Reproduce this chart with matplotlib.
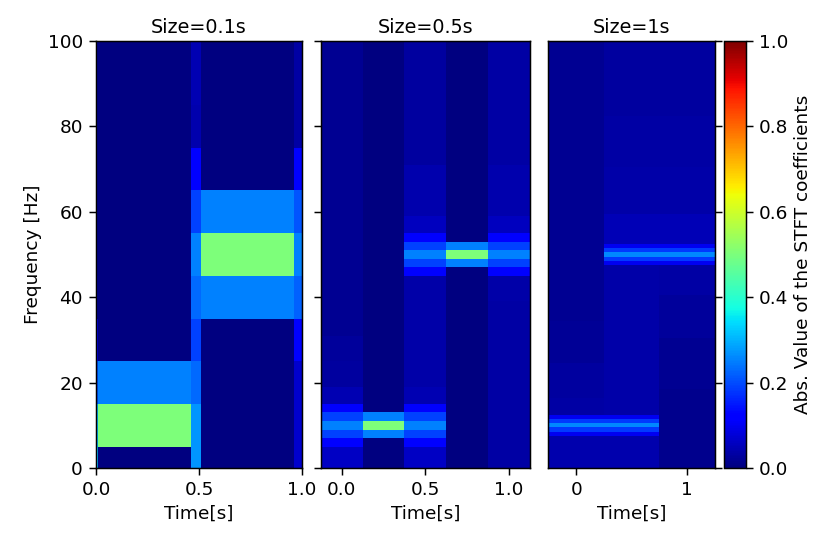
import matplotlib.pyplot as plt
import numpy as np

plt.rcParams['font.size'] = 13.3
plt.rcParams['axes.linewidth'] = 1.07
for a in ('xtick', 'ytick'):
    plt.rcParams[a + '.major.size'] = 4.7
    plt.rcParams[a + '.major.width'] = 1.07
    plt.rcParams[a + '.major.pad'] = 4.7

# ---- window 0.1 s : 10 Hz bins, frame boundaries in seconds
t01_edges = [0.0, 0.01, 0.06, 0.11, 0.16, 0.21, 0.26, 0.31, 0.36, 0.41, 0.46,
             0.51, 0.56, 0.61, 0.66, 0.71, 0.76, 0.81, 0.86, 0.91, 0.96, 1.0]
f01 = [0, 10, 20, 30, 40, 50, 60, 70, 80, 90, 100]
s01_start = [0.30, 0.30, 0.20, 0.10, 0.03, 0.02, 0.02, 0.02, 0.02, 0.02, 0.02]
s01_tone10 = [0.0, 0.50, 0.25, 0.0, 0.0, 0.0, 0.0, 0.0, 0.0, 0.0, 0.0]
s01_switch = [0.27, 0.27, 0.23, 0.19, 0.23, 0.25, 0.19, 0.11, 0.04, 0.045, 0.045]
s01_tone50 = [0.0, 0.0, 0.0, 0.0, 0.25, 0.50, 0.25, 0.0, 0.0, 0.0, 0.0]
s01_end = [0.07, 0.07, 0.07, 0.11, 0.22, 0.25, 0.21, 0.11, 0.035, 0.035, 0.035]

# ---- window 0.5 s : 2 Hz bins, frames every 0.25 s
# each frame: floor level + (lo_hz, hi_hz, value) bands
t05 = [0.0, 0.25, 0.5, 0.75, 1.0]
f05 = np.arange(0, 101, 2)
s05_floor = [0.018, 0.0, 0.03, 0.0, 0.033]
s05_f0 = [(0, 4, 0.06), (6, 6, 0.12), (8, 8, 0.19), (10, 10, 0.25), (12, 12, 0.19),
          (14, 14, 0.12), (16, 18, 0.045), (20, 24, 0.03), (26, 30, 0.024)]
s05_f1 = [(8, 8, 0.25), (10, 10, 0.50), (12, 12, 0.25)]
s05_f2 = [(0, 4, 0.06), (6, 6, 0.12), (8, 8, 0.19), (10, 10, 0.25), (12, 12, 0.19),
          (14, 14, 0.12), (16, 18, 0.045), (20, 44, 0.038), (46, 46, 0.12),
          (48, 48, 0.19), (50, 50, 0.25), (52, 52, 0.19), (54, 54, 0.12),
          (56, 58, 0.055), (60, 70, 0.04)]
s05_f3 = [(48, 48, 0.25), (50, 50, 0.50), (52, 52, 0.25)]
s05_f4 = [(40, 44, 0.038), (46, 46, 0.12), (48, 48, 0.19), (50, 50, 0.25),
          (52, 52, 0.19), (54, 54, 0.12), (56, 58, 0.055), (60, 70, 0.04)]

# ---- window 1 s : 1 Hz bins, frames every 0.5 s
t1 = [0.0, 0.5, 1.0]
f1 = np.arange(0, 101, 1)
s1_floor = [0.018, 0.028, 0.028]
s1_f0 = [(0, 7, 0.04), (8, 8, 0.1), (9, 9, 0.18), (10, 10, 0.26), (11, 11, 0.18),
         (12, 12, 0.1), (13, 16, 0.035), (17, 24, 0.028), (25, 34, 0.022)]
s1_f1 = [(0, 7, 0.04), (8, 8, 0.1), (9, 9, 0.18), (10, 10, 0.26), (11, 11, 0.18),
         (12, 12, 0.1), (13, 47, 0.036), (48, 48, 0.1), (49, 49, 0.18),
         (50, 50, 0.26), (51, 51, 0.18), (52, 52, 0.1), (53, 59, 0.048),
         (60, 70, 0.036), (71, 82, 0.032)]
s1_f2 = [(0, 18, 0.012), (19, 30, 0.018), (31, 40, 0.025), (41, 47, 0.033),
         (48, 48, 0.1), (49, 49, 0.18), (50, 50, 0.26), (51, 51, 0.18),
         (52, 52, 0.1), (53, 59, 0.048), (60, 70, 0.036), (71, 82, 0.032)]


def frame(freqs, floor, bands):
    col = np.full(len(freqs), floor, dtype=float)
    for lo, hi, v in bands:
        col[(freqs >= lo) & (freqs <= hi)] = v
    return col


# build the three magnitude grids (frequency x time)
Z01 = np.column_stack([s01_start] + [s01_tone10] * 9 + [s01_switch]
                      + [s01_tone50] * 9 + [s01_end])
f01 = np.array(f01)
f01_edges = np.append(f01 - 5, f01[-1] + 5)

Z05 = np.column_stack([frame(f05, fl, b) for fl, b in
                       zip(s05_floor, [s05_f0, s05_f1, s05_f2, s05_f3, s05_f4])])
Z1 = np.column_stack([frame(f1, fl, b) for fl, b in
                      zip(s1_floor, [s1_f0, s1_f1, s1_f2])])

fig = plt.figure(figsize=(8.16, 5.36), dpi=100)
bottom, height = 0.1269, 0.7966
ax1 = fig.add_axes([0.1176, bottom, 0.2525, height])
ax2 = fig.add_axes([0.3934, bottom, 0.2555, height])
ax3 = fig.add_axes([0.6721, bottom, 0.2038, height])
cax = fig.add_axes([0.8873, bottom, 0.0270, height])

m = ax1.pcolormesh(t01_edges, f01_edges, Z01, cmap='jet', vmin=0, vmax=1,
                   shading='flat')
ax2.pcolormesh(t05, f05, Z05, cmap='jet', vmin=0, vmax=1, shading='nearest')
ax3.pcolormesh(t1, f1, Z1, cmap='jet', vmin=0, vmax=1, shading='nearest')

ax1.set_xlim(0, 1.0)
ax1.set_xticks([0.0, 0.5, 1.0])
ax2.set_xticks([0.0, 0.5, 1.0])
ax3.set_xticks([0, 1])

for ax, title in zip([ax1, ax2, ax3], ['Size=0.1s', 'Size=0.5s', 'Size=1s']):
    ax.set_ylim(0, 100)
    ax.set_yticks([0, 20, 40, 60, 80, 100])
    ax.set_title(title, fontsize=13.8)
    ax.set_xlabel('Time[s]')

ax1.set_ylabel('Frequency [Hz]')
ax2.tick_params(axis='y', labelleft=False)
ax3.yaxis.tick_right()
ax3.tick_params(axis='y', labelright=False)

cb = fig.colorbar(m, cax=cax)
cb.set_ticks([0.0, 0.2, 0.4, 0.6, 0.8, 1.0])
cb.set_label('Abs. Value of the STFT coefficients')

fig.savefig('out.png', dpi=100)
